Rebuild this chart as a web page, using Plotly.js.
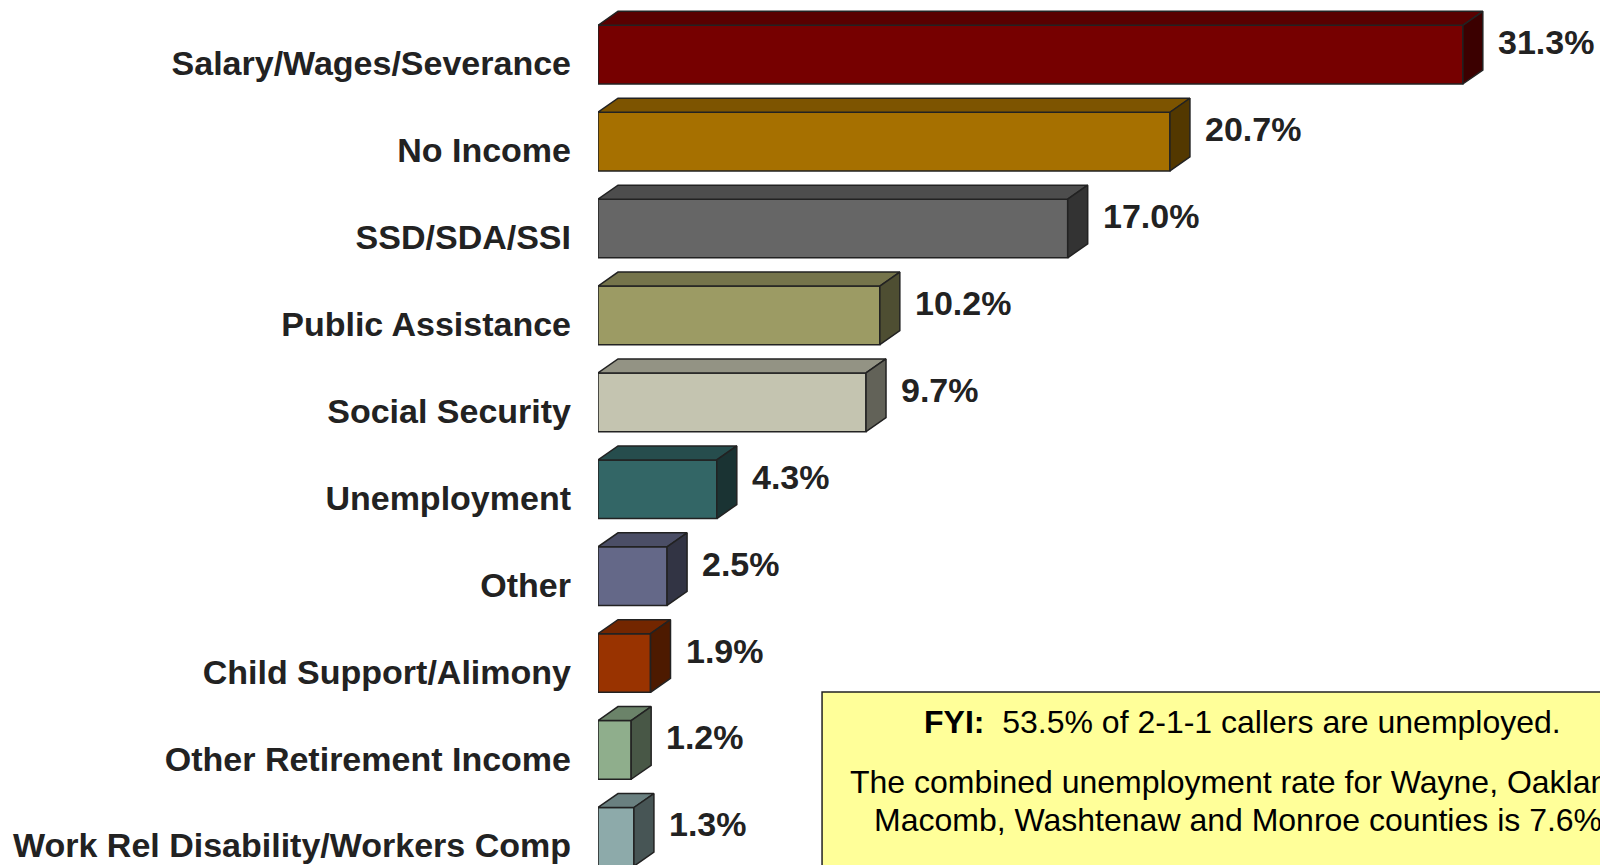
<!DOCTYPE html>
<html>
<head>
<meta charset="utf-8">
<script src="https://cdn.plot.ly/plotly-3.0.1.min.js"></script>
<style>
  html, body { margin: 0; padding: 0; background: #ffffff; }
  #chart { width: 1600px; height: 865px; }
</style>
</head>
<body>
<div id="chart"></div>
<script>
// ---- data ----
const categories = [
  'Salary/Wages/Severance',
  'No Income',
  'SSD/SDA/SSI',
  'Public Assistance',
  'Social Security',
  'Unemployment',
  'Other',
  'Child Support/Alimony',
  'Other Retirement Income',
  'Work Rel Disability/Workers Comp'
];
const values = [31.3, 20.7, 17.0, 10.2, 9.7, 4.3, 2.5, 1.9, 1.2, 1.3];
const valueLabels = values.map(v => v.toFixed(1) + '%');
const frontColors = [
  '#760000', '#a67000', '#666666', '#9c9b64', '#c4c4b0',
  '#336666', '#646888', '#993300', '#8fae8c', '#8daaaa'
];
const noteLine1 = '<b>FYI:</b>\u00a0\u00a053.5% of 2-1-1 callers are unemployed.';
const noteLine2 = 'The combined unemployment rate for Wayne, Oakland,';
const noteLine3 = 'Macomb, Washtenaw and Monroe counties is 7.6%.';

// ---- styling / geometry ----
const barWidth = 0.675;     // category units
const depthX = 0.724;       // value units
const depthY = 0.161;       // category units
const edge = '#222222';
const labelFont = { family: 'Liberation Sans, Arial, sans-serif', size: 34, color: '#222222' };

function shade(hex, f) {
  const n = parseInt(hex.slice(1), 16);
  const r = Math.round(((n >> 16) & 255) * f);
  const g = Math.round(((n >> 8) & 255) * f);
  const b = Math.round((n & 255) * f);
  return 'rgb(' + r + ',' + g + ',' + b + ')';
}

const idx = categories.map((_, i) => i);

const traces = [];
// front faces
traces.push({
  type: 'bar',
  orientation: 'h',
  x: values,
  y: idx,
  width: barWidth,
  marker: { color: frontColors, line: { color: edge, width: 1.5 } },
  hoverinfo: 'skip',
  showlegend: false
});
// top and side faces
values.forEach((v, i) => {
  const yt = i - barWidth / 2;
  const yb = i + barWidth / 2;
  traces.push({
    type: 'scatter', mode: 'lines', fill: 'toself',
    x: [0, v, v + depthX, depthX, 0],
    y: [yt, yt, yt - depthY, yt - depthY, yt],
    fillcolor: shade(frontColors[i], 0.75),
    line: { color: edge, width: 1.5 },
    hoverinfo: 'skip', showlegend: false
  });
  traces.push({
    type: 'scatter', mode: 'lines', fill: 'toself',
    x: [v, v + depthX, v + depthX, v, v],
    y: [yt, yt - depthY, yb - depthY, yb, yt],
    fillcolor: shade(frontColors[i], 0.5),
    line: { color: edge, width: 1.5 },
    hoverinfo: 'skip', showlegend: false
  });
});

const annotations = values.map((v, i) => ({
  x: v + depthX, y: i - 0.144, xref: 'x', yref: 'y',
  text: '<b>' + valueLabels[i] + '</b>',
  showarrow: false, xanchor: 'left', yanchor: 'middle', xshift: 13,
  font: labelFont
}));

const noteFont = { family: 'Liberation Sans, Arial, sans-serif', size: 32, color: '#000000' };
annotations.push(
  { xref: 'paper', yref: 'paper', x: 0.6437, y: 0.1653, text: noteLine1, showarrow: false,
    xanchor: 'center', yanchor: 'middle', font: noteFont },
  { xref: 'paper', yref: 'paper', x: 0.6437, y: 0.0960, text: noteLine2, showarrow: false,
    xanchor: 'center', yanchor: 'middle', font: noteFont },
  { xref: 'paper', yref: 'paper', x: 0.6437, y: 0.0520, text: noteLine3, showarrow: false,
    xanchor: 'center', yanchor: 'middle', font: noteFont }
);

const layout = {
  width: 1600, height: 865,
  margin: { l: 598, r: 0, t: 0, b: 0, pad: 0 },
  paper_bgcolor: '#ffffff', plot_bgcolor: '#ffffff',
  showlegend: false,
  bargap: 0,
  xaxis: { range: [0, 36.265], visible: false, fixedrange: true },
  yaxis: {
    range: [9.324, -0.629],
    tickvals: idx.map(i => i + 0.1),
    ticktext: categories.map(c => '<b>' + c + '</b>'),
    tickfont: labelFont,
    ticks: '', showgrid: false, zeroline: false, showline: false,
    ticklabelstandoff: 26,
    fixedrange: true
  },
  shapes: [{
    type: 'rect', xref: 'paper', yref: 'paper',
    x0: 0.2236, x1: 1.12, y0: -0.1, y1: 0.2,
    fillcolor: '#ffff99', line: { color: '#222222', width: 1.5 },
    layer: 'below'
  }],
  annotations: annotations
};

Plotly.newPlot('chart', traces, layout, { displayModeBar: false, staticPlot: true });
</script>
</body>
</html>
